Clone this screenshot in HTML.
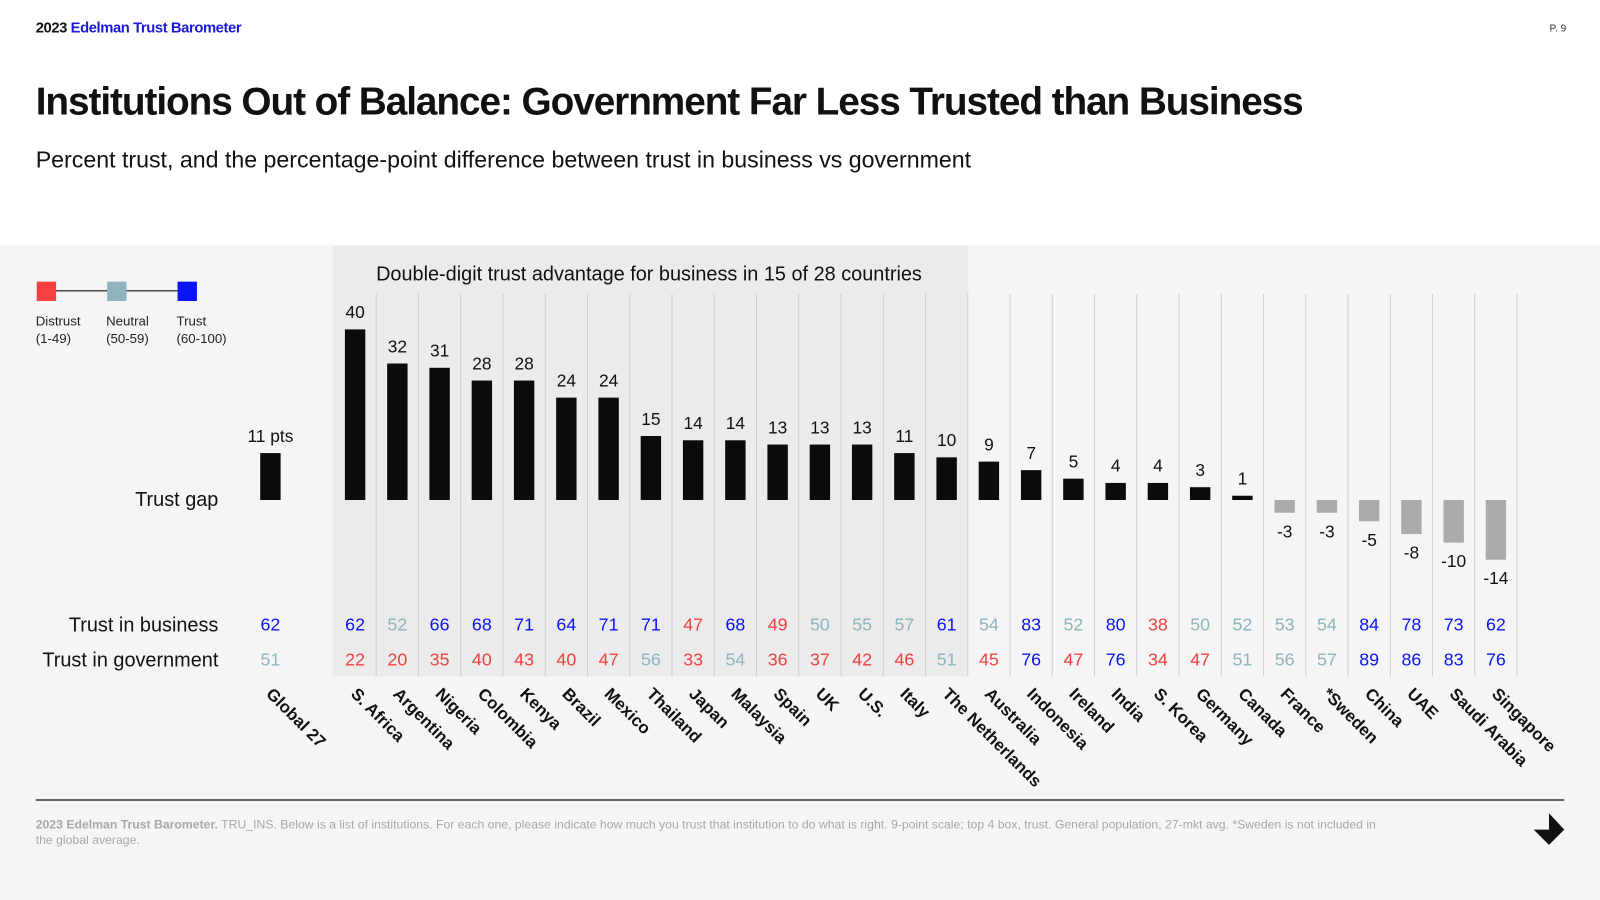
<!DOCTYPE html>
<html><head><meta charset="utf-8"><style>
html,body{margin:0;padding:0;background:#fff;}
svg{display:block;font-family:"Liberation Sans",Arial,sans-serif;}
</style></head><body>
<svg id="chart" width="1600" height="900" viewBox="0 0 1568 882" xmlns="http://www.w3.org/2000/svg">
<rect x="0" y="0" width="1568" height="882" fill="#ffffff"/>
<text x="35" y="32" font-size="14.5" font-weight="bold" letter-spacing="-0.4"><tspan fill="#111">2023 </tspan><tspan fill="#1a1ad6">Edelman Trust Barometer</tspan></text>
<text x="1535" y="31" font-size="10" fill="#333" text-anchor="end">P. 9</text>
<text x="35" y="112" font-size="38" font-weight="bold" letter-spacing="-1.05" fill="#111">Institutions Out of Balance: Government Far Less Trusted than Business</text>
<text x="35" y="164" font-size="22.7" fill="#111">Percent trust, and the percentage-point difference between trust in business vs government</text>
<rect x="0" y="240" width="1568" height="642" fill="#f5f5f5"/>
<rect x="326" y="241" width="623" height="422" fill="#ebebeb"/>
<text x="636" y="275" font-size="19.5" text-anchor="middle" fill="#111">Double-digit trust advantage for business in 15 of 28 countries</text>
<g>
<line x1="45" y1="285" x2="182" y2="285" stroke="#111" stroke-width="1"/>
<rect x="36" y="276" width="19" height="19" fill="#f64040"/>
<rect x="105" y="276" width="19" height="19" fill="#8fb4bf"/>
<rect x="174" y="276" width="19" height="19" fill="#0a14f5"/>
<text x="35" y="319" font-size="13" fill="#222">Distrust</text><text x="35" y="336" font-size="13" fill="#222">(1-49)</text>
<text x="104" y="319" font-size="13" fill="#222">Neutral</text><text x="104" y="336" font-size="13" fill="#222">(50-59)</text>
<text x="173" y="319" font-size="13" fill="#222">Trust</text><text x="173" y="336" font-size="13" fill="#222">(60-100)</text>
</g>
<text x="214" y="496" font-size="19.5" text-anchor="end" fill="#111">Trust gap</text>
<text x="214" y="619" font-size="19.5" text-anchor="end" fill="#111">Trust in business</text>
<text x="214" y="653" font-size="19.5" text-anchor="end" fill="#111">Trust in government</text>
<g id="grid"></g><g id="marks"></g>
<line x1="35" y1="784" x2="1533" y2="784" stroke="#111" stroke-width="1.2"/>
<text font-size="12" fill="#a8a8a8"><tspan x="35" y="812"><tspan font-weight="bold">2023 Edelman Trust Barometer.</tspan> TRU_INS. Below is a list of institutions. For each one, please indicate how much you trust that institution to do what is right. 9-point scale; top 4 box, trust. General population, 27-mkt avg. *Sweden is not included in</tspan><tspan x="35" y="827">the global average.</tspan></text>
<path d="M1503 813 L1518 813 L1518 797 L1533 813 L1518 828 Z" fill="#111"/>
</svg>
<script>
const countries=["Global 27","S. Africa","Argentina","Nigeria","Colombia","Kenya","Brazil","Mexico","Thailand","Japan","Malaysia","Spain","UK","U.S.","Italy","The Netherlands","Australia","Indonesia","Ireland","India","S. Korea","Germany","Canada","France","*Sweden","China","UAE","Saudi Arabia","Singapore"];
const gap=[11,40,32,31,28,28,24,24,15,14,14,13,13,13,11,10,9,7,5,4,4,3,1,-3,-3,-5,-8,-10,-14];
const business=[62,62,52,66,68,71,64,71,71,47,68,49,50,55,57,61,54,83,52,80,38,50,52,53,54,84,78,73,62];
const government=[51,22,20,35,40,43,40,47,56,33,54,36,37,42,46,51,45,76,47,76,34,47,51,56,57,89,86,83,76];
const NS="http://www.w3.org/2000/svg";
const baseY=490, unit=4.18, step=(1466-348)/27;
function xPos(i){return i===0?265:348+(i-1)*step;}
function yPos(v){return baseY-v*unit;}
function col(v){return v>=60?"#0a14f5":(v>=50?"#8fb4bf":"#f04040");}
function mk(tag,attrs,parent){const e=document.createElementNS(NS,tag);for(const k in attrs)e.setAttribute(k,attrs[k]);parent.appendChild(e);return e;}
const grid=document.getElementById('grid'), marks=document.getElementById('marks');
for(let i=1;i<countries.length;i++){
  const gl=mk('line',{x1:xPos(i)+step/2,x2:xPos(i)+step/2,y1:288,y2:663,stroke:'#cfcfcf','stroke-width':1},grid);
  
  
}
countries.forEach((c,i)=>{
  const x=xPos(i), g=gap[i];
  const h=Math.max(Math.abs(g)*unit,4);
  const bar=mk('rect',{x:x-10,y:g>=0?baseY-h:baseY,width:20,height:h,fill:g>=0?'#0b0b0b':'#ababab'},marks);
  
  
  const lbl=mk('text',{x:x,y:g>=0?baseY-h-11:baseY+h+24,'font-size':17,'text-anchor':'middle',fill:'#111'},marks);
  lbl.textContent=i===0?g+" pts":String(g);
  
  
  const b=mk('text',{x:x,y:618,'font-size':17.5,'text-anchor':'middle',fill:col(business[i])},marks);
  b.textContent=business[i];
  
  
  const gv=mk('text',{x:x,y:652,'font-size':17.5,'text-anchor':'middle',fill:col(government[i])},marks);
  gv.textContent=government[i];
  
  
  const cl=mk('text',{transform:`translate(${x-5},${681}) rotate(45)`,'font-size':16.5,'font-weight':'bold',fill:'#111'},marks);
  cl.textContent=c;
  
  
});
</script>
</body></html>
